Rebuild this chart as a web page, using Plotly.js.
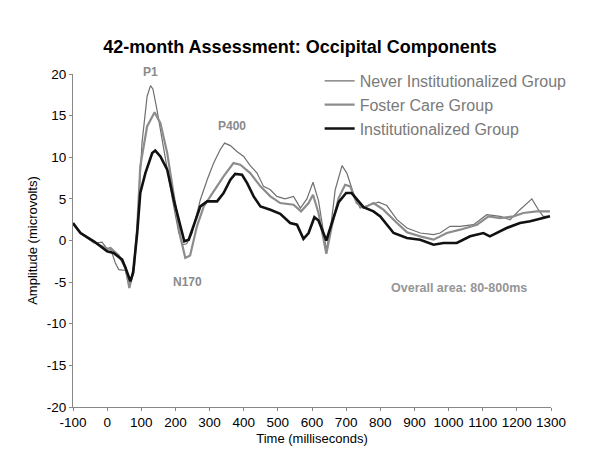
<!DOCTYPE html>
<html>
<head>
<meta charset="utf-8">
<script src="https://cdn.plot.ly/plotly-3.0.1.min.js"></script>
<style>html,body{margin:0;padding:0;background:#fff;}#chart{width:600px;height:460px;}</style>
</head>
<body>
<div id="chart"></div>
<script>
// Institutionalized Group
const instX = [-100,-78,-39,0,19,44,54,68,76,88,97,112,132,141,156,176,195,214,226,239,253,273,293,322,341,361,375,395,410,429,449,478,507,536,556,575,590,607,619,642,658,678,700,716,751,780,800,819,839,878,917,956,985,1024,1063,1102,1121,1170,1209,1239,1268,1297];
const instY = [2.1,0.9,-0.1,-1.3,-1.5,-2.3,-3.3,-4.9,-3.9,0.9,5.7,8.1,10.5,10.8,10.1,8.5,4.9,1.7,-0.1,0.1,1.7,4.1,4.7,4.7,5.7,7.3,8.0,7.9,6.9,5.3,4.1,3.7,3.2,2.1,1.9,0.2,0.9,2.8,2.4,0.0,2.1,4.6,5.7,5.7,4.0,3.5,2.9,1.9,0.9,0.3,0.1,-0.5,-0.3,-0.3,0.5,0.9,0.5,1.5,2.1,2.3,2.6,2.9];

// Never Institutionalized Group
const neverX = [-100,-78,-39,-15,0,10,24,34,54,65,78,90,102,117,127,134,146,161,176,195,210,222,233,249,273,293,312,331,344,361,380,400,419,439,458,478,497,521,546,566,585,603,619,629,642,654,668,688,702,721,741,770,795,819,849,878,917,956,975,1004,1034,1073,1112,1151,1180,1209,1244,1263,1277,1297];
const neverY = [2.0,0.9,-0.3,-0.2,-1.0,-1.0,-2.7,-3.5,-3.6,-5.6,-3.0,2.5,11.7,17.3,18.6,18.2,15.7,12.1,8.5,4.1,0.9,-0.5,-0.4,0.9,4.9,7.3,9.3,10.9,11.7,11.4,10.7,10.1,9.0,8.1,6.5,6.1,5.3,5.0,5.3,3.9,5.0,7.0,4.8,2.0,-1.1,1.3,6.1,9.0,8.1,5.7,3.9,4.3,4.6,4.2,2.5,1.5,0.9,0.7,0.9,1.7,1.7,1.9,3.1,2.9,2.5,3.7,5.0,3.7,2.9,2.9];

// Foster Care Group
const fosterX = [-100,-78,-39,0,10,34,54,65,78,88,97,117,139,156,176,195,214,229,243,263,283,312,341,370,390,419,449,478,507,546,568,590,603,619,642,658,678,697,712,731,751,780,809,849,878,917,956,995,1034,1083,1117,1151,1190,1219,1258,1297];
const fosterY = [2.0,0.9,-0.2,-1.0,-0.9,-1.8,-3.3,-5.7,-3.5,1.5,8.9,13.7,15.4,14.1,10.5,5.7,0.5,-2.1,-1.8,1.7,4.1,5.9,7.7,9.3,9.1,8.1,6.5,5.3,4.5,4.3,3.5,4.5,5.5,3.3,-1.6,1.7,5.1,6.7,6.5,4.5,3.9,4.5,3.7,2.1,1.0,0.5,0.1,0.9,1.3,1.9,2.9,2.7,2.9,3.3,3.5,3.5];

const xTicks = [-100,0,100,200,300,400,500,600,700,800,900,1000,1100,1200,1300];
const yTicks = [-20,-15,-10,-5,0,5,10,15,20];

const FONT = "Liberation Sans, Arial, sans-serif";

const traces = [
  {x: neverX, y: neverY, name: "Never Institutionalized Group", mode: "lines",
   line: {color: "#6f6f6f", width: 1.2}},
  {x: fosterX, y: fosterY, name: "Foster Care Group", mode: "lines",
   line: {color: "#8c8c8c", width: 2.2}},
  {x: instX, y: instY, name: "Institutionalized Group", mode: "lines",
   line: {color: "#111111", width: 2.6}}
];

const annColor = "#8a8a8a";
const layout = {
  width: 600, height: 460,
  margin: {l: 72.5, r: 49, t: 74, b: 53},
  paper_bgcolor: "#fff", plot_bgcolor: "#fff",
  font: {family: FONT, color: "#000", size: 13},
  title: {text: "<b>42-month Assessment: Occipital Components</b>", x: 0.5, xanchor: "center",
          y: 0.898, yanchor: "middle", yref: "container", font: {size: 18, family: FONT, color: "#000"}},
  xaxis: {range: [-100, 1300], tickvals: xTicks, ticktext: xTicks.map(String),
          showgrid: false, zeroline: false, showline: true, linecolor: "#888", linewidth: 1,
          ticks: "outside", ticklen: 3, tickcolor: "#888",
          tickfont: {size: 13.5, family: FONT, color: "#000"},
          title: {text: "Time (milliseconds)", font: {size: 13, family: FONT, color: "#000"}, standoff: 4}},
  yaxis: {range: [-20, 20], tickvals: yTicks, ticktext: yTicks.map(String),
          showgrid: false, zeroline: false, showline: true, linecolor: "#888", linewidth: 1,
          ticks: "outside", ticklen: 3, tickcolor: "#888",
          tickfont: {size: 13.5, family: FONT, color: "#000"},
          title: {text: "Amplitude (microvolts)", font: {size: 13, family: FONT, color: "#000"}, standoff: 6}},
  showlegend: true,
  legend: {x: 0.516, xanchor: "left", y: 1.03, yanchor: "top", bgcolor: "rgba(0,0,0,0)",
           font: {size: 16, family: FONT, color: "#7a7a7a"}, tracegroupgap: 0},
  annotations: [
    {x: 126, y: 20, yshift: 2, text: "<b>P1</b>", showarrow: false, font: {size: 12, family: FONT, color: annColor}},
    {x: 367, y: 13.8, text: "<b>P400</b>", showarrow: false, font: {size: 12, family: FONT, color: annColor}},
    {x: 235, y: -5.0, text: "<b>N170</b>", showarrow: false, font: {size: 12, family: FONT, color: annColor}},
    {x: 1031, y: -5.7, text: "<b>Overall area: 80-800ms</b>", showarrow: false, font: {size: 12.5, family: FONT, color: "#959595"}}
  ]
};

Plotly.newPlot("chart", traces, layout, {displayModeBar: false, staticPlot: true});
</script>
</body>
</html>
